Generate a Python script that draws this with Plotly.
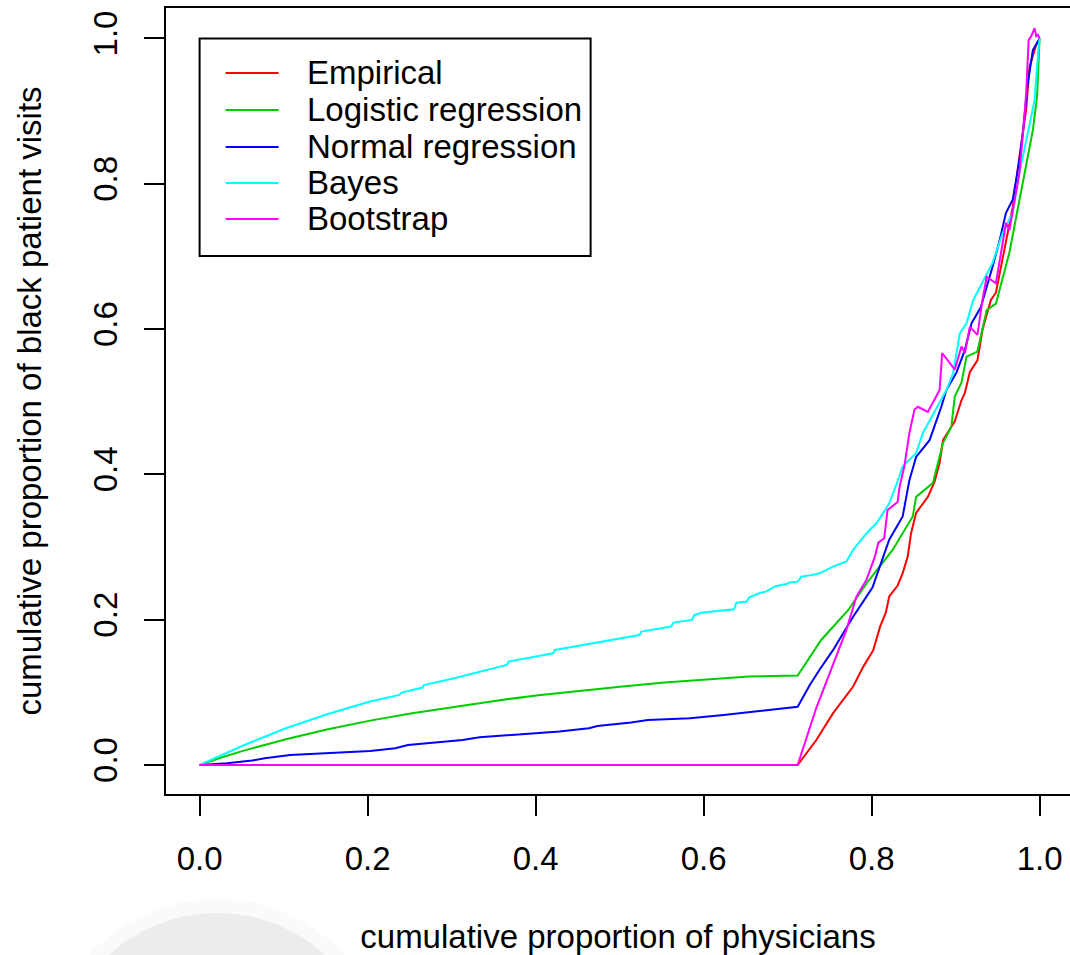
import plotly.graph_objects as go

# Lorenz-type curves: cumulative share of black patient visits vs. cumulative share of physicians
series_names = ["Empirical", "Logistic regression", "Normal regression", "Bayes", "Bootstrap"]
series_colors = ["#FF0000", "#00CD00", "#0000FF", "#00FFFF", "#FF00FF"]

empirical_x = [0, 0.712, 0.734, 0.754, 0.778, 0.790, 0.802, 0.810, 0.817, 0.821, 0.831, 0.837,
               0.843, 0.847, 0.853, 0.867, 0.875, 0.881, 0.885, 0.899, 0.907, 0.911, 0.917, 0.926,
               0.932, 0.938, 0.942, 0.948, 0.960, 0.968, 0.976, 0.984, 0.988, 0.992, 0.996, 1.0]
empirical_y = [0, 0, 0.034, 0.071, 0.108, 0.135, 0.158, 0.190, 0.210, 0.232, 0.247, 0.264,
               0.287, 0.319, 0.347, 0.369, 0.390, 0.416, 0.447, 0.473, 0.502, 0.512, 0.541, 0.557,
               0.599, 0.626, 0.640, 0.650, 0.723, 0.768, 0.837, 0.902, 0.961, 0.975, 0.991, 1.0]

logistic_x = [0, 0.025, 0.0526, 0.1027, 0.1528, 0.2029, 0.253, 0.3031, 0.3532, 0.4033, 0.4534,
              0.5035, 0.5536, 0.6037, 0.6538, 0.712, 0.740, 0.772, 0.794, 0.825, 0.849, 0.853,
              0.873, 0.885, 0.895, 0.899, 0.907, 0.913, 0.926, 0.937, 0.948, 0.964, 0.976, 0.984,
              0.992, 0.997, 1.0]
logistic_y = [0, 0.0100, 0.0197, 0.0353, 0.0491, 0.0610, 0.0711, 0.0803, 0.0885, 0.0960, 0.1025,
              0.1080, 0.1135, 0.1180, 0.1216, 0.123, 0.172, 0.213, 0.250, 0.296, 0.342, 0.369,
              0.388, 0.443, 0.466, 0.507, 0.526, 0.562, 0.569, 0.626, 0.635, 0.705, 0.778, 0.824,
              0.874, 0.920, 1.0]

normal_x = [0, 0.0326, 0.0626, 0.0776, 0.1077, 0.2029, 0.2329, 0.2480, 0.3131, 0.3332, 0.4284,
            0.4635, 0.4735, 0.5136, 0.5336, 0.5837, 0.6238, 0.6489, 0.674, 0.712, 0.7264, 0.738,
            0.754, 0.778, 0.801, 0.810, 0.821, 0.837, 0.845, 0.853, 0.869, 0.883, 0.889, 0.901,
            0.911, 0.919, 0.930, 0.945, 0.952, 0.960, 0.968, 0.972, 0.976, 0.980, 0.986, 0.992,
            1.0]
normal_y = [0, 0.0023, 0.0060, 0.0092, 0.0138, 0.0193, 0.0230, 0.0275, 0.0344, 0.0381, 0.0459,
            0.0505, 0.0537, 0.0583, 0.0619, 0.0642, 0.0688, 0.0720, 0.0757, 0.080, 0.110, 0.131,
            0.158, 0.204, 0.244, 0.273, 0.310, 0.342, 0.392, 0.424, 0.447, 0.493, 0.516, 0.540,
            0.571, 0.608, 0.630, 0.690, 0.720, 0.760, 0.778, 0.805, 0.833, 0.870, 0.939, 0.984,
            1.0]

bayes_x = [0, 0.0526, 0.1027, 0.1528, 0.2029, 0.2379, 0.2405, 0.2655, 0.2670, 0.3031, 0.3657,
           0.3680, 0.4208, 0.4230, 0.5236, 0.5260, 0.5612, 0.5640, 0.5862, 0.5890, 0.5987, 0.6363,
           0.6390, 0.6513, 0.6540, 0.6663, 0.674, 0.6864, 0.699, 0.702, 0.712, 0.7164, 0.729,
           0.738, 0.754, 0.770, 0.778, 0.794, 0.806, 0.821, 0.833, 0.837, 0.853, 0.861, 0.873,
           0.889, 0.897, 0.905, 0.913, 0.921, 0.944, 0.956, 0.968, 0.976, 0.986, 0.994, 0.999,
           1.0]
bayes_y = [0, 0.0271, 0.0505, 0.0702, 0.0872, 0.0964, 0.0996, 0.1065, 0.1100, 0.1193, 0.1376,
           0.1422, 0.1537, 0.1583, 0.1789, 0.1835, 0.1904, 0.1959, 0.1996, 0.2065, 0.2097, 0.2142,
           0.2234, 0.2248, 0.2303, 0.2363, 0.2386, 0.2464, 0.249, 0.251, 0.2523, 0.2592, 0.2615,
           0.2638, 0.273, 0.280, 0.296, 0.319, 0.333, 0.360, 0.397, 0.411, 0.429, 0.457, 0.482,
           0.516, 0.539, 0.594, 0.608, 0.640, 0.691, 0.732, 0.760, 0.815, 0.870, 0.915, 0.990,
           1.0]

bootstrap_x = [0, 0.712, 0.734, 0.756, 0.770, 0.782, 0.794, 0.804, 0.808, 0.815, 0.819, 0.831,
               0.833, 0.839, 0.845, 0.851, 0.855, 0.867, 0.871, 0.875, 0.881, 0.884, 0.899, 0.907,
               0.911, 0.917, 0.926, 0.932, 0.937, 0.948, 0.952, 0.960, 0.964, 0.968, 0.972, 0.976,
               0.982, 0.984, 0.987, 0.990, 0.994, 0.996, 0.998, 1.0]
bootstrap_y = [0, 0, 0.078, 0.145, 0.186, 0.232, 0.255, 0.287, 0.306, 0.312, 0.351, 0.362,
               0.381, 0.411, 0.457, 0.489, 0.493, 0.486, 0.494, 0.502, 0.516, 0.567, 0.544, 0.576,
               0.567, 0.603, 0.592, 0.640, 0.672, 0.663, 0.691, 0.746, 0.736, 0.764, 0.787, 0.815,
               0.893, 0.925, 0.998, 1.003, 1.014, 1.003, 1.005, 1.0]

tick_vals = [0.0, 0.2, 0.4, 0.6, 0.8, 1.0]
tick_text = ["0.0", "0.2", "0.4", "0.6", "0.8", "1.0"]

all_x = [empirical_x, logistic_x, normal_x, bayes_x, bootstrap_x]
all_y = [empirical_y, logistic_y, normal_y, bayes_y, bootstrap_y]

FONT = "Liberation Sans, Arial, Helvetica, sans-serif"
FS = 33

fig = go.Figure()
for name, color, xs, ys in zip(series_names, series_colors, all_x, all_y):
    fig.add_trace(go.Scatter(x=xs, y=ys, mode="lines", name=name,
                             line=dict(color=color, width=2), showlegend=False))

shapes = []
annotations = []

# soft grey disc in the lower-left corner of the page
shapes.append(dict(type="circle", xref="paper", yref="paper", layer="below",
                   x0=(42 - 166) / 904, x1=(392 - 166) / 904,
                   y0=(794 - 1249) / 786, y1=(794 - 899) / 786,
                   fillcolor="#fafafa", line=dict(width=0)))
shapes.append(dict(type="circle", xref="paper", yref="paper", layer="below",
                   x0=(56 - 166) / 904, x1=(378 - 166) / 904,
                   y0=(794 - 1235) / 786, y1=(794 - 913) / 786,
                   fillcolor="#ececec", line=dict(width=0)))

# legend box in the top-left corner, anchored at (0, 1)
leg_x0, leg_x1 = 0.0, 0.4655
leg_y1, leg_y0 = 1.0, 0.7006
shapes.append(dict(type="rect", xref="x", yref="y", x0=leg_x0, x1=leg_x1, y0=leg_y0, y1=leg_y1,
                   line=dict(color="black", width=2), fillcolor="rgba(0,0,0,0)"))
row_y = [0.9525, 0.9016, 0.8507, 0.8011, 0.7515]
for name, color, ry in zip(series_names, series_colors, row_y):
    shapes.append(dict(type="line", xref="x", yref="y", x0=0.031, x1=0.094, y0=ry, y1=ry,
                       line=dict(color=color, width=2)))
    annotations.append(dict(xref="x", yref="y", x=0.125, y=ry, text=name, showarrow=False,
                            xanchor="left", yanchor="middle",
                            font=dict(family=FONT, size=FS, color="black")))

fig.update_layout(
    width=1070, height=955,
    margin=dict(l=166, r=0, t=8, b=161),
    paper_bgcolor="white", plot_bgcolor="white",
    font=dict(family=FONT, size=FS, color="black"),
    shapes=shapes, annotations=annotations,
    xaxis=dict(range=[-0.04, -0.04 + 904 / 840], tickvals=tick_vals, ticktext=tick_text,
               showgrid=False, zeroline=False, showline=True, linecolor="black", linewidth=2,
               mirror=True, ticks="outside", ticklen=20, tickwidth=2, tickcolor="black",
               ticklabelstandoff=14,
               title=dict(text="cumulative proportion of physicians", standoff=50,
                          font=dict(family=FONT, size=FS))),
    yaxis=dict(range=[-0.04, -0.04 + 786 / 726.5], tickvals=tick_vals, ticktext=tick_text,
               tickangle=-90, showgrid=False, zeroline=False, showline=True, linecolor="black",
               linewidth=2, mirror=False, ticks="outside", ticklen=20, tickwidth=2,
               tickcolor="black", ticklabelstandoff=14,
               title=dict(text="cumulative proportion of black patient visits", standoff=35,
                          font=dict(family=FONT, size=FS))),
)

fig.write_html("out.html")
